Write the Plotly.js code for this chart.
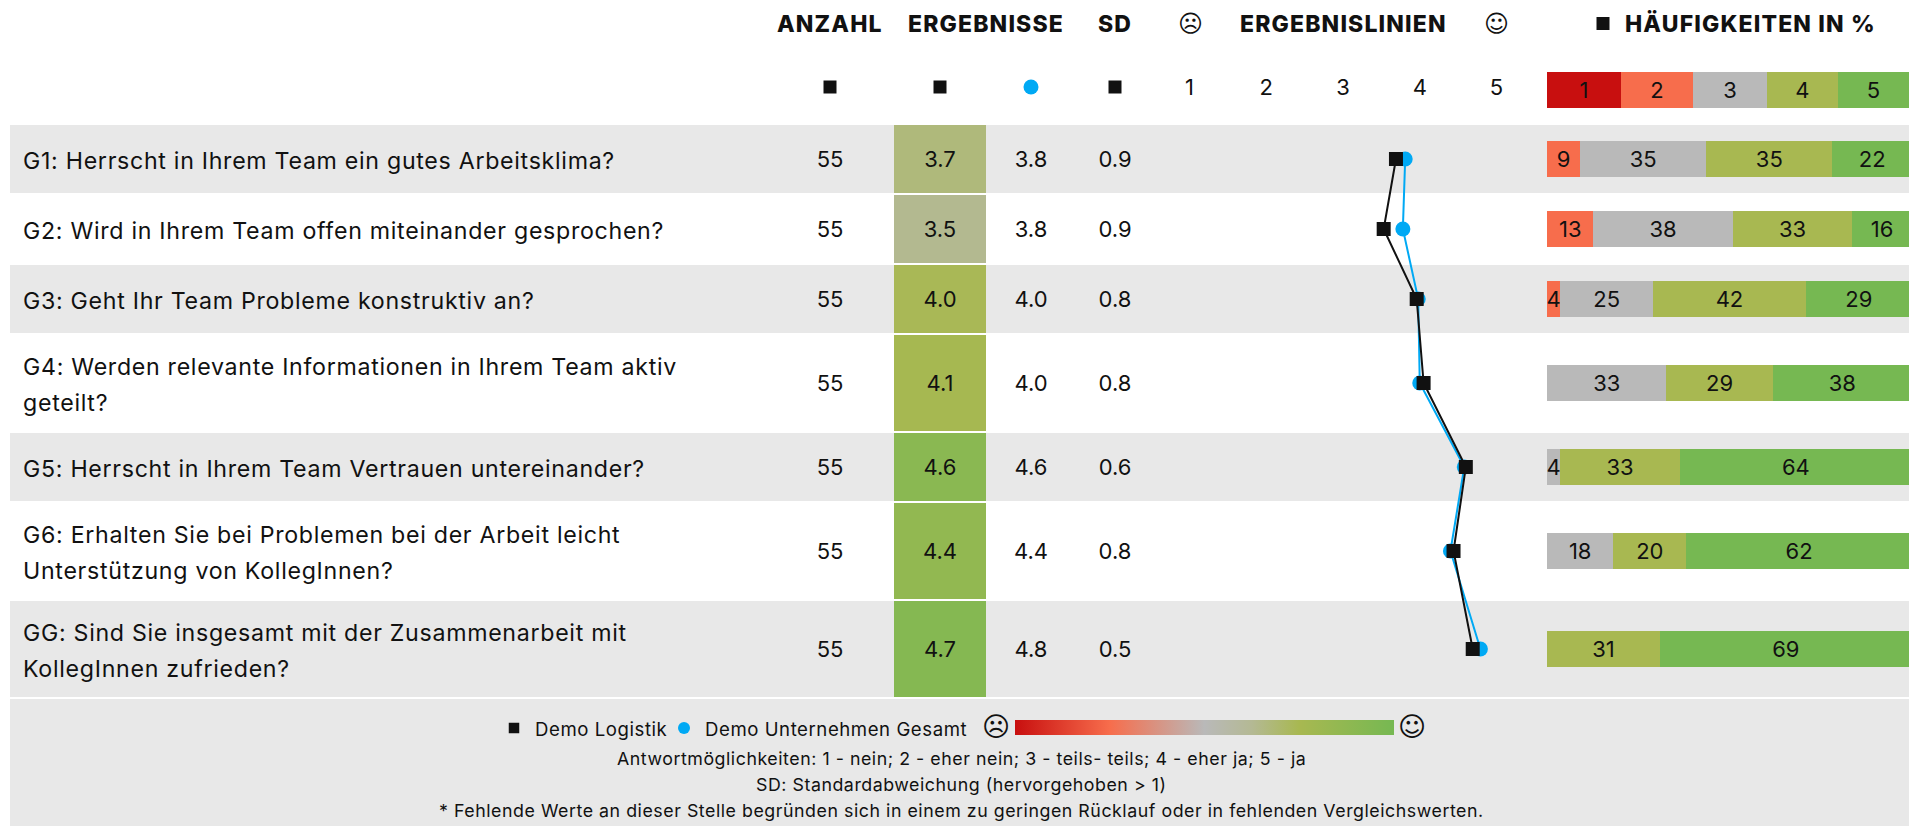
<!DOCTYPE html>
<html>
<head>
<meta charset="utf-8">
<script src="https://cdn.plot.ly/plotly-3.0.1.min.js"></script>
<style>
html,body{margin:0;padding:0;background:#fff;overflow:hidden}
.annotation-text{letter-spacing:.03em}
.annotation-text[style*="font-weight: 800"]{letter-spacing:.05em}
</style>
</head>
<body>
<div id="chart" style="width:1909px;height:826px"></div>
<script>
// ---- data ----
const questionLines = [
  ["G1: Herrscht in Ihrem Team ein gutes Arbeitsklima?"],
  ["G2: Wird in Ihrem Team offen miteinander gesprochen?"],
  ["G3: Geht Ihr Team Probleme konstruktiv an?"],
  ["G4: Werden relevante Informationen in Ihrem Team aktiv", "geteilt?"],
  ["G5: Herrscht in Ihrem Team Vertrauen untereinander?"],
  ["G6: Erhalten Sie bei Problemen bei der Arbeit leicht", "Unterstützung von KollegInnen?"],
  ["GG: Sind Sie insgesamt mit der Zusammenarbeit mit", "KollegInnen zufrieden?"]
];
const counts   = ["55","55","55","55","55","55","55"];
const logistik = [3.69, 3.53, 3.96, 4.05, 4.60, 4.44, 4.69];
const logistikLabels = ["3.7","3.5","4.0","4.1","4.6","4.4","4.7"];
const gesamt   = [3.81, 3.78, 3.98, 4.00, 4.58, 4.40, 4.79];
const gesamtLabels = ["3.8","3.8","4.0","4.0","4.6","4.4","4.8"];
const sdLabels = ["0.9","0.9","0.8","0.8","0.6","0.8","0.5"];
const freq2 = [9.09, 12.73, 3.64, null, null, null, null];
const freq3 = [34.55, 38.18, 25.45, 32.73, 3.64, 18.18, null];
const freq4 = [34.55, 32.73, 41.82, 29.09, 32.73, 20.00, 30.91];
const freq5 = [21.82, 16.36, 29.09, 38.18, 63.64, 61.82, 69.09];
const scaleKey = [20.27, 19.73, 20.27, 19.45, 19.48];
const scaleLabels = ["1","2","3","4","5"];
const headers = ["ANZAHL","ERGEBNISSE","SD","ERGEBNISLINIEN","HÄUFIGKEITEN IN %"];
const legendNames = ["Demo Logistik","Demo Unternehmen Gesamt"];
const notes = [
  "Antwortmöglichkeiten: 1 - nein; 2 - eher nein; 3 - teils- teils; 4 - eher ja; 5 - ja",
  "SD: Standardabweichung (hervorgehoben > 1)",
  "* Fehlende Werte an dieser Stelle begründen sich in einem zu geringen Rücklauf oder in fehlenden Vergleichswerten."
];

// ---- layout constants (pixels of the 1909x826 page) ----
const W = 1909, H = 826;
const rowCenters = [159,229,299,383,467,551,649];
const cellHeights = [68,68,68,96,68,96,96];
const greyRows = [[125,193],[265,333],[433,501],[601,697],[699,826]];
const BLACK = "#111111", BLUE = "#00a9f4", GREY = "#e8e8e8";
const C1="#c80f0f", C2="#f76d4c", C3="#b9b9b9", C4="#a8b851", C5="#76b852";
const colorscale = [[0,C1],[0.25,C2],[0.5,C3],[0.625,"#b4b994"],[0.75,C4],[1,C5]];
const FONT = "Inter, Roboto, sans-serif";
const bodySize = 22, questionSize = 23.2, barSize = 22, headSize = 23, noteSize = 17.8, legendSize = 18.6;
const colCount = 830, colGesamt = 1031, colSd = 1115;
const keyY = 90, barH = 36;
const dom = (a,b)=>[a/W,b/W];

const none = {hoverinfo:"skip", showlegend:false};
const px = (arr,v)=>arr.map(()=>v);

function stack(vals,color){
  return Object.assign({type:"bar",orientation:"h",xaxis:"x",yaxis:"y",
    x:vals,y:rowCenters,width:barH,marker:{color:color,line:{width:0}},
    text:vals.map(v=>v==null?"":String(Math.round(v))),
    textposition:"inside",insidetextanchor:"middle",textangle:0,constraintext:"none",
    textfont:{family:FONT,size:barSize,color:BLACK}},none);
}
const keyColors=[C1,C2,C3,C4,C5];
const keyTraces = scaleKey.map((v,i)=>Object.assign({type:"bar",orientation:"h",xaxis:"x",yaxis:"y",
    x:[v],y:[keyY],width:barH,marker:{color:keyColors[i],line:{width:0}},
    text:[scaleLabels[i]],textposition:"inside",insidetextanchor:"middle",textangle:0,constraintext:"none",
    textfont:{family:FONT,size:barSize,color:BLACK}},none));

const traces = [
  ...keyTraces,
  stack(freq2,C2), stack(freq3,C3), stack(freq4,C4), stack(freq5,C5),
  // result cells coloured by value, with the colour key as their colorbar
  Object.assign({type:"bar",orientation:"h",xaxis:"x3",yaxis:"y",
    x:px(logistik,1),y:rowCenters,width:cellHeights,
    marker:{color:logistik,cmin:1,cmax:5,colorscale:colorscale,line:{width:0},showscale:true,
      colorbar:{orientation:"h",lenmode:"pixels",len:379,thicknessmode:"pixels",thickness:15,
        x:1015/W,xanchor:"left",y:1-720/H,yanchor:"top",xpad:0,ypad:0,outlinewidth:0,borderwidth:0,
        showticklabels:false,ticks:""}},
    text:logistikLabels,textposition:"inside",insidetextanchor:"middle",textangle:0,constraintext:"none",
    textfont:{family:FONT,size:bodySize,color:BLACK}},none),
  // result lines
  Object.assign({type:"scatter",mode:"lines+markers",xaxis:"x2",yaxis:"y",x:gesamt,y:rowCenters,cliponaxis:false,
    line:{color:BLUE,width:2},marker:{symbol:"circle",size:15,color:BLUE}},none),
  Object.assign({type:"scatter",mode:"lines+markers",xaxis:"x2",yaxis:"y",x:logistik,y:rowCenters,cliponaxis:false,
    line:{color:BLACK,width:2},marker:{symbol:"square",size:14,color:BLACK}},none),
  // text columns
  ...[[colCount,counts],[colGesamt,gesamtLabels],[colSd,sdLabels]].map(([c,t])=>Object.assign({type:"scatter",mode:"text",xaxis:"x4",yaxis:"y",
    x:px(t,c),y:rowCenters.map(v=>v+2.5),text:t,textposition:"middle center",cliponaxis:false,
    textfont:{family:FONT,size:bodySize,color:BLACK}},none)),
  // header markers
  Object.assign({type:"scatter",mode:"markers",xaxis:"x4",yaxis:"y",x:[830,940,1115,1603],y:[87,87,87,23.5],cliponaxis:false,
    marker:{symbol:"square",size:13,color:BLACK}},none),
  Object.assign({type:"scatter",mode:"markers",xaxis:"x4",yaxis:"y",x:[1031],y:[87],cliponaxis:false,
    marker:{symbol:"circle",size:15,color:BLUE}},none),
  // legend markers
  Object.assign({type:"scatter",mode:"markers",xaxis:"x4",yaxis:"y",x:[514],y:[728],cliponaxis:false,
    marker:{symbol:"square",size:10.5,color:BLACK}},none),
  Object.assign({type:"scatter",mode:"markers",xaxis:"x4",yaxis:"y",x:[684],y:[728],cliponaxis:false,
    marker:{symbol:"circle",size:12,color:BLUE}},none)
];

function note(text,x,y,size,opts){
  return Object.assign({text:text,x:x,y:y,xref:"x4",yref:"y",showarrow:false,xanchor:"center",yanchor:"middle",
    borderpad:0,borderwidth:0,font:{family:FONT,size:size,color:BLACK}},opts||{});
}
const annotations = [];
questionLines.forEach((lines,i)=>{
  lines.forEach((ln,j)=>{
    const off = lines.length===1?0:(j===0?-18:18);
    annotations.push(note(ln,23,rowCenters[i]+off+2,questionSize,{xanchor:"left"}));
  });
});
const headX=[830,986,1115,1343.5,1750];
headers.forEach((h,i)=>annotations.push(note(h,headX[i],23.5,headSize,{font:{family:FONT,size:headSize,color:BLACK,weight:800}})));
const SAD="\u2639", HAPPY="\u263A", FACE="DejaVu Sans";
annotations.push(note(SAD,1191,23.5,24,{font:{family:FACE,size:24,color:BLACK}}));
annotations.push(note(HAPPY,1496.5,23.5,24,{font:{family:FACE,size:24,color:BLACK}}));
annotations.push(note(SAD,996,726,27,{font:{family:FACE,size:27,color:BLACK}}));
annotations.push(note(HAPPY,1412,726,27,{font:{family:FACE,size:27,color:BLACK}}));
annotations.push(note(legendNames[0],534.5,728.5,legendSize,{xanchor:"left"}));
annotations.push(note(legendNames[1],704.5,728.5,legendSize,{xanchor:"left"}));
const noteY=[758,784,810];
notes.forEach((n,i)=>annotations.push(note(n,961.5,noteY[i],noteSize)));

const off={visible:false,fixedrange:true};
const layout = {
  width:W,height:H,margin:{l:0,r:0,t:0,b:0,autoexpand:false},
  paper_bgcolor:"#ffffff",plot_bgcolor:"rgba(0,0,0,0)",
  barmode:"stack",bargap:0,showlegend:false,
  font:{family:FONT,color:BLACK},
  yaxis:Object.assign({range:[H,0],domain:[0,1]},off),
  xaxis:Object.assign({domain:dom(1547,1909),range:[0,99.2],anchor:"y"},off),
  xaxis3:Object.assign({domain:dom(894,986),range:[0,1],anchor:"y"},off),
  xaxis4:Object.assign({domain:[0,1],range:[0,W],anchor:"y"},off),
  xaxis2:{domain:dom(1151.1,1534.9),range:[0.5,5.5],anchor:"free",position:1-99/H,side:"top",overlaying:false,
    showgrid:false,zeroline:false,showline:false,ticks:"",tickmode:"array",tickvals:[1,2,3,4,5],ticktext:scaleLabels,
    tickfont:{family:FONT,size:bodySize,color:BLACK},fixedrange:true},
  shapes:greyRows.map(r=>({type:"rect",xref:"paper",yref:"y",x0:10/W,x1:1,y0:r[0],y1:r[1],fillcolor:GREY,line:{width:0},layer:"below"})),
  annotations:annotations
};
Plotly.newPlot("chart",traces,layout,{displayModeBar:false,staticPlot:true});
</script>
</body>
</html>
